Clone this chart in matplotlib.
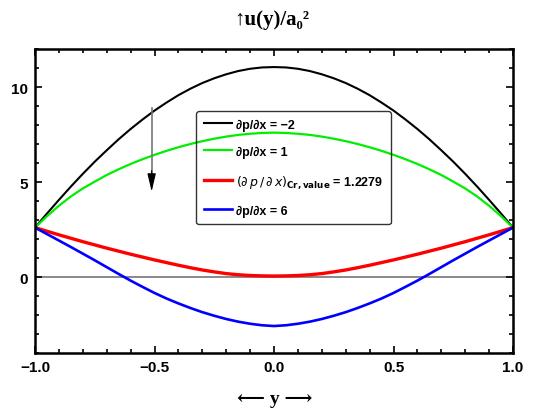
import matplotlib
matplotlib.use("Agg")
import matplotlib.pyplot as plt
from matplotlib.ticker import MultipleLocator

# --- values (y from -1 to 1, step 0.05) ---
y = [-1.0, -0.95, -0.9, -0.85, -0.8, -0.75, -0.7, -0.65, -0.6, -0.55, -0.5,
     -0.45, -0.4, -0.35, -0.3, -0.25, -0.2, -0.15, -0.1, -0.05, 0.0,
     0.05, 0.1, 0.15, 0.2, 0.25, 0.3, 0.35, 0.4, 0.45, 0.5,
     0.55, 0.6, 0.65, 0.7, 0.75, 0.8, 0.85, 0.9, 0.95, 1.0]

# dp/dx = -2 (black)
u_m2 = [2.6, 3.34, 4.06, 4.76, 5.43, 6.07, 6.67, 7.25, 7.79, 8.29, 8.76,
        9.18, 9.57, 9.91, 10.21, 10.46, 10.67, 10.84, 10.96, 11.03, 11.05,
        11.03, 10.96, 10.84, 10.67, 10.46, 10.21, 9.91, 9.57, 9.18, 8.76,
        8.29, 7.79, 7.25, 6.67, 6.07, 5.43, 4.76, 4.06, 3.34, 2.6]
# dp/dx = 1 (green)
u_1 = [2.6, 3.2, 3.75, 4.24, 4.66, 5.02, 5.37, 5.67, 5.95, 6.2, 6.43,
       6.64, 6.83, 7.0, 7.15, 7.28, 7.39, 7.48, 7.54, 7.58, 7.6,
       7.58, 7.54, 7.48, 7.39, 7.28, 7.15, 7.0, 6.83, 6.64, 6.43,
       6.2, 5.95, 5.67, 5.37, 5.02, 4.66, 4.24, 3.75, 3.2, 2.6]
# critical value 1.2279 (red)
u_cr = [2.6, 2.41, 2.22, 2.04, 1.86, 1.69, 1.52, 1.36, 1.2, 1.05, 0.9,
        0.76, 0.62, 0.49, 0.37, 0.27, 0.18, 0.12, 0.08, 0.06, 0.05,
        0.06, 0.08, 0.12, 0.18, 0.27, 0.37, 0.49, 0.62, 0.76, 0.9,
        1.05, 1.2, 1.36, 1.52, 1.69, 1.86, 2.04, 2.22, 2.41, 2.6]
# dp/dx = 6 (blue)
u_6 = [2.6, 2.26, 1.92, 1.58, 1.23, 0.88, 0.52, 0.16, -0.19, -0.52, -0.84,
       -1.13, -1.39, -1.63, -1.85, -2.04, -2.21, -2.35, -2.46, -2.54, -2.58,
       -2.54, -2.46, -2.35, -2.21, -2.04, -1.85, -1.63, -1.39, -1.13, -0.84,
       -0.52, -0.19, 0.16, 0.52, 0.88, 1.23, 1.58, 1.92, 2.26, 2.6]

labels = ["∂p/∂x = −2",
          "∂p/∂x = 1",
          r"$(\partial\,p\,/\,\partial\,x)_{\mathbf{Cr,value}}$ = 1.2279",
          "∂p/∂x = 6"]

sans = ["Liberation Sans", "DejaVu Sans"]
serif = ["Liberation Serif", "DejaVu Serif", "DejaVu Sans"]

fig = plt.figure(figsize=(5.37, 4.14), dpi=100)
ax = fig.add_axes([0.0652, 0.1449, 0.8901, 0.7343])

# zero axis line
ax.axhline(0, color="#808080", lw=1.3, zorder=1)

ax.plot(y, u_m2, color="black", lw=1.5, label=labels[0])
ax.plot(y, u_1, color="#00ee00", lw=1.6, label=labels[1])
ax.plot(y, u_cr, color="#ff0000", lw=2.4, label=labels[2])
ax.plot(y, u_6, color="#0000ff", lw=1.9, label=labels[3])

# arrow: gray shaft, black head
ax.plot([-0.512, -0.512], [8.9, 5.2], color="#777777", lw=1.2)
ax.annotate("", xy=(-0.512, 4.5), xytext=(-0.512, 5.6),
            arrowprops=dict(arrowstyle="-|>,head_length=1.1,head_width=0.26",
                            color="black", lw=0.8, shrinkA=0, shrinkB=0))

ax.set_xlim(-1.0, 1.0)
ax.set_ylim(-4.0, 12.0)

ax.xaxis.set_minor_locator(MultipleLocator(0.1))
ax.yaxis.set_major_locator(MultipleLocator(5))
ax.yaxis.set_minor_locator(MultipleLocator(1))
ax.set_xticks([-1.0, -0.5, 0.0, 0.5, 1.0])
ax.set_xticklabels(["−1.0", "−0.5", "0.0", "0.5", "1.0"])

ax.tick_params(which="both", direction="in", top=True, right=True, width=1.2)
ax.tick_params(which="major", length=5, labelsize=11, pad=5)
ax.tick_params(which="minor", length=3)
for lab in ax.get_xticklabels() + ax.get_yticklabels():
    lab.set_family(sans)
    lab.set_fontweight("bold")

for s in ax.spines.values():
    s.set_linewidth(1.8)

fig.text(0.506, 0.952, "↑u(y)/a₀²", ha="center", va="center",
         family=serif, fontweight="bold", fontsize=15)
fig.text(0.512, 0.034, "⟵ y ⟶", ha="center", va="center",
         family=serif, fontweight="bold", fontsize=14)

leg = ax.legend(loc="upper left", bbox_to_anchor=(0.337, 0.796),
                borderaxespad=0,
                prop={"family": sans, "weight": "bold", "size": 9},
                frameon=True, fancybox=True, edgecolor="black",
                handlelength=2.25, labelspacing=1.2, borderpad=0.6,
                handletextpad=0.35)
leg.get_frame().set_linewidth(1.0)
leg.get_frame().set_facecolor("none")

fig.savefig("out.png", dpi=100)
